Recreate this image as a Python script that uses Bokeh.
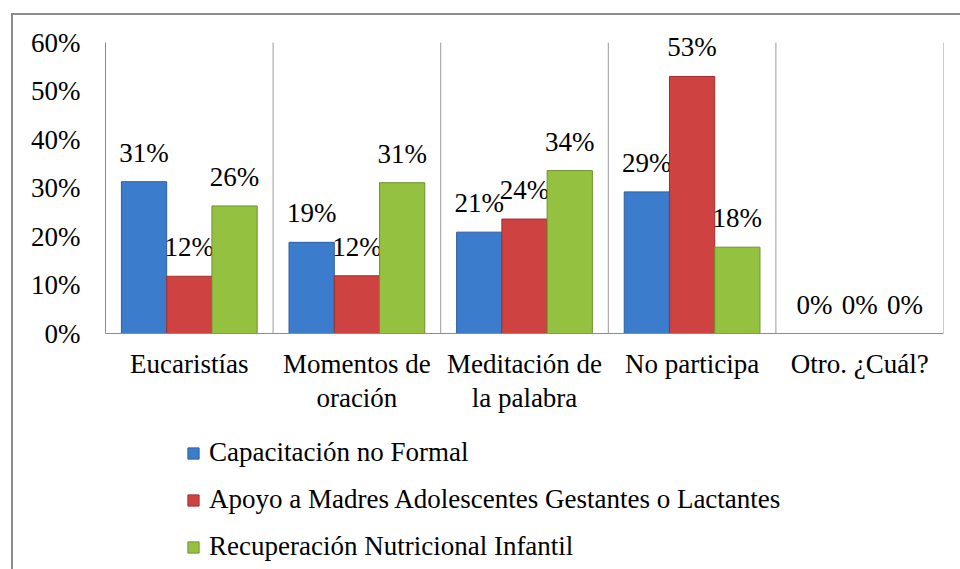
from bokeh.plotting import figure
from bokeh.models import (ColumnDataSource, FixedTicker, NumeralTickFormatter,
                          Legend, LegendItem, Range1d, LinearAxis)
from bokeh.core.properties import value
from bokeh.embed import file_html
from bokeh.resources import INLINE

categories = ["Eucaristías", "Momentos de\noración", "Meditación de\nla palabra",
              "No participa", "Otro. ¿Cuál?"]
series_names = ["Capacitación no Formal",
                "Apoyo a Madres Adolescentes Gestantes o Lactantes",
                "Recuperación Nutricional Infantil"]
capacitacion = [0.313, 0.188, 0.209, 0.292, 0.0]
apoyo = [0.118, 0.119, 0.236, 0.530, 0.0]
recuperacion = [0.263, 0.311, 0.336, 0.178, 0.0]
y_ticks = [0.0, 0.1, 0.2, 0.3, 0.4, 0.5, 0.6]

colors = ["#3c7ccc", "#cf4242", "#95c141"]
edge_colors = ["#2d5f9e", "#9e2f2f", "#6f9130"]
FONT = "serif"
FS = "27px"
LH = 1.15

BAR_W = 0.27
offsets = [-BAR_W, 0.0, BAR_W]
Y_MAX = y_ticks[-1]
# view range: headroom above 60% for the labels, and room below 0
# for category labels and the legend (all inside the frame)
Y_MAX_VIEW = 0.6454
Y_MIN_VIEW = -0.4866

p = figure(width=960, height=569, output_backend="svg", toolbar_location=None,
           x_range=Range1d(-0.5, len(categories) - 0.5),
           y_range=Range1d(Y_MIN_VIEW, Y_MAX_VIEW),
           x_axis_location=None, y_axis_location=None,
           min_border_left=105, min_border_right=17, min_border_top=20,
           min_border_bottom=0,
           styles={"box-shadow": "inset 11px 13px 0 0 #ffffff, inset 13px 15px 0 0 #8c8c8c",
                   "font-family": "'Liberation Serif', 'Times New Roman', serif"})
p.outline_line_color = None
p.background_fill_color = None
p.border_fill_color = None
p.xgrid.visible = False
p.ygrid.visible = False

# category separators
sep_x = [i + 0.5 for i in range(len(categories))]
p.segment(x0=sep_x, y0=[0] * len(sep_x), x1=sep_x, y1=[Y_MAX] * len(sep_x),
          line_color="#9a9a9a", line_width=1)

renderers = []
for vals, off, col, ecol in zip([capacitacion, apoyo, recuperacion], offsets, colors, edge_colors):
    src = ColumnDataSource(dict(
        x=[i + off for i in range(len(categories))],
        top=vals,
        lab=[f"{round(v * 100)}%" for v in vals],
    ))
    r = p.vbar(x="x", top="top", bottom=0, width=BAR_W, source=src,
               fill_color=col, line_color=ecol, line_width=1)
    renderers.append(r)
    p.text(x="x", y="top", text="lab", source=src, text_align="center",
           text_baseline="alphabetic", y_offset=-29, text_line_height=LH,
           text_font=value(FONT), text_font_size=FS, text_color="black")

# y axis
yax = LinearAxis(ticker=FixedTicker(ticks=y_ticks), formatter=NumeralTickFormatter(format="0%"),
                 bounds=(0, Y_MAX))
yax.major_tick_line_color = None
yax.minor_tick_line_color = None
yax.major_tick_out = 0
yax.major_tick_in = 0
yax.axis_line_color = "#8c8c8c"
yax.major_label_text_font = FONT
yax.major_label_text_font_size = FS
yax.major_label_text_line_height = LH
yax.major_label_text_color = "black"
yax.major_label_standoff = 25
p.add_layout(yax, "left")

# x axis at y = 0
xax = LinearAxis(ticker=FixedTicker(ticks=list(range(len(categories)))),
                 bounds=(-0.5, len(categories) - 0.5), fixed_location=0)
xax.major_label_overrides = {i: c for i, c in enumerate(categories)}
xax.major_tick_line_color = None
xax.minor_tick_line_color = None
xax.axis_line_color = "#8c8c8c"
xax.major_label_text_font = FONT
xax.major_label_text_font_size = FS
xax.major_label_text_color = "black"
xax.major_label_text_line_height = LH
xax.major_label_standoff = 9
p.add_layout(xax, "below")

legend = Legend(items=[LegendItem(label=n, renderers=[r]) for n, r in zip(series_names, renderers)],
                location=(81, 7), orientation="vertical",
                label_text_font=FONT, label_text_font_size=FS, label_text_color="black",
                label_text_line_height=LH,
                glyph_width=14, glyph_height=14, label_height=31, spacing=16,
                label_standoff=9, padding=0, margin=0,
                border_line_color=None, background_fill_alpha=0)
p.add_layout(legend, "center")

open("out.html", "w").write(file_html(p, INLINE))
